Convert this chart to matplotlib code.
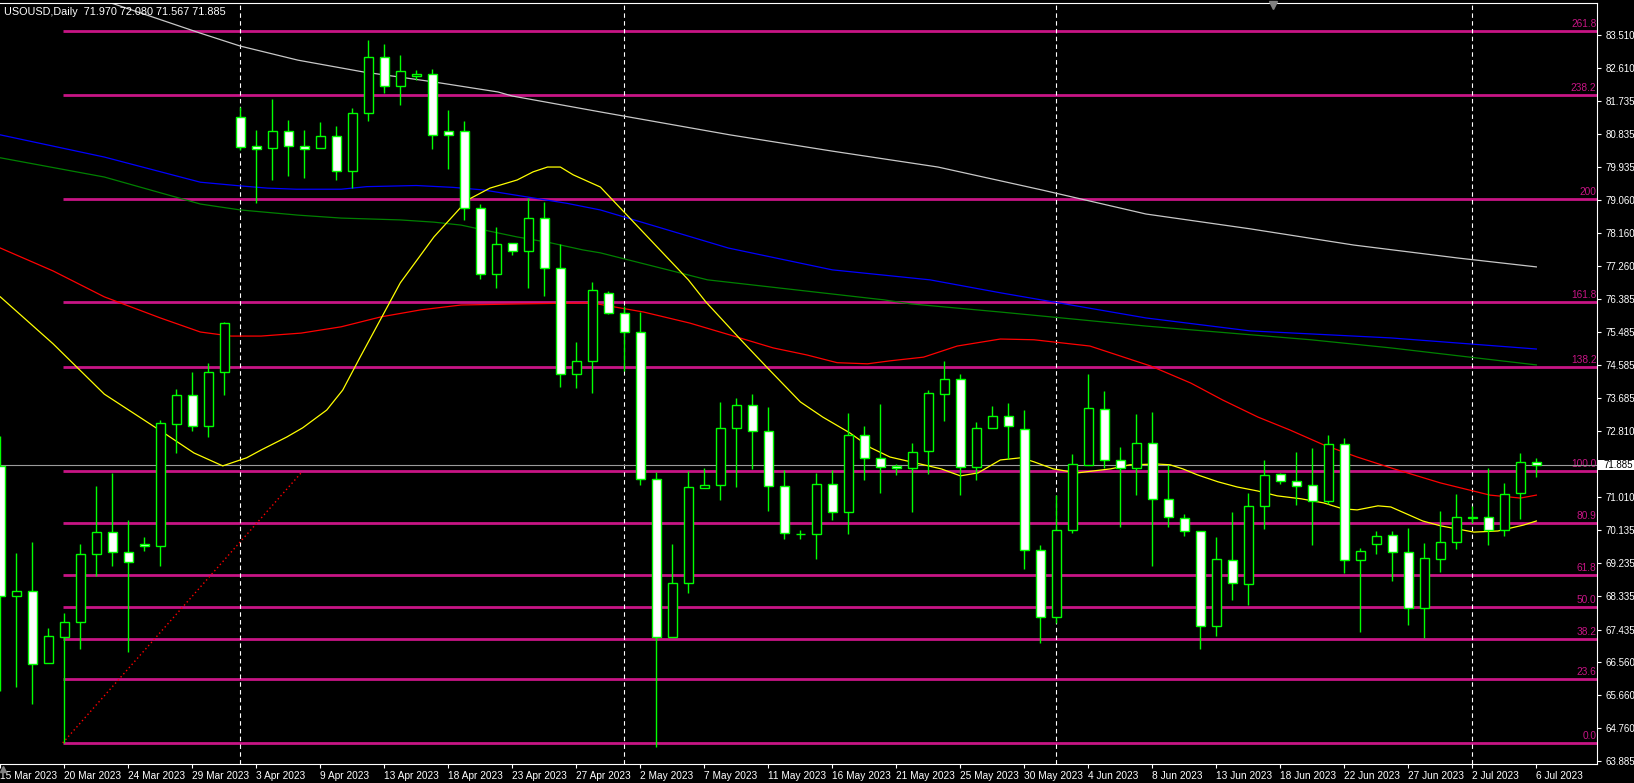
import matplotlib
matplotlib.use('Agg')
import matplotlib.pyplot as plt
from matplotlib.patches import Rectangle

plt.rcParams['font.family'] = ['Liberation Sans', 'DejaVu Sans']

# daily OHLC, bar 0 = 15 Mar 2023 ... bar 96 = 6 Jul 2023
opens = [71.86, 68.34, 68.47, 66.54, 67.24, 67.63, 69.47, 70.07, 69.54, 69.75,
         69.69, 73.00, 73.77, 72.93, 74.39, 81.29, 80.50, 80.45, 80.91, 80.50,
         80.45, 80.77, 79.83, 81.39, 82.91, 82.12, 82.39, 82.45, 80.91, 80.91,
         78.83, 77.04, 77.88, 77.66, 78.55, 77.20, 74.34, 74.69, 76.53, 75.99,
         75.47, 71.50, 67.24, 68.69, 71.26, 71.34, 72.88, 73.50, 72.80, 71.31,
         70.02, 70.01, 71.36, 70.61, 72.69, 72.07, 71.85, 71.80, 72.26, 73.80,
         74.20, 71.82, 72.88, 73.20, 72.85, 69.58, 67.77, 70.12, 71.88, 73.39,
         72.01, 71.80, 72.47, 70.96, 70.44, 70.09, 67.53, 69.31, 68.66, 70.77,
         71.63, 71.45, 71.34, 70.90, 72.45, 69.31, 69.74, 69.99, 69.53, 68.01,
         69.35, 69.80, 70.46, 70.47, 70.12, 71.12, 71.970]
highs = [72.67, 69.51, 69.80, 67.48, 67.88, 69.75, 71.32, 71.66, 70.40, 69.94,
         73.10, 73.94, 74.40, 74.64, 75.75, 81.57, 80.94, 81.78, 81.21, 80.94,
         81.16, 81.05, 81.54, 83.38, 83.27, 82.97, 82.56, 82.58, 81.48, 81.19,
         78.94, 78.31, 77.88, 79.10, 78.99, 77.85, 75.20, 76.82, 76.59, 76.18,
         76.01, 71.69, 69.75, 71.72, 71.80, 73.59, 73.70, 73.81, 73.45, 71.74,
         70.13, 71.67, 71.74, 73.28, 72.94, 73.53, 71.91, 72.48, 73.91, 74.70,
         74.35, 73.05, 73.48, 73.56, 73.37, 69.71, 71.07, 72.17, 74.35, 73.88,
         72.36, 73.26, 73.32, 71.88, 70.56, 70.09, 69.94, 70.61, 71.13, 72.02,
         71.66, 72.23, 72.35, 72.69, 72.61, 69.63, 70.09, 70.09, 70.17, 69.77,
         70.63, 71.10, 70.77, 71.80, 71.39, 72.20, 72.080]
lows = [65.78, 65.88, 65.42, 66.52, 64.37, 66.90, 68.89, 69.16, 66.84, 69.57,
        69.14, 72.22, 72.79, 72.65, 73.79, 80.40, 78.98, 79.60, 79.71, 79.65,
        80.45, 79.60, 79.36, 81.19, 81.95, 81.63, 82.29, 80.42, 79.88, 78.50,
        76.91, 76.66, 77.55, 76.66, 76.45, 73.99, 73.97, 73.84, 75.96, 74.43,
        71.33, 64.27, 67.24, 68.43, 71.26, 70.95, 71.28, 71.77, 70.63, 69.89,
        69.89, 69.35, 70.41, 70.03, 71.49, 71.14, 71.62, 70.62, 71.65, 73.08,
        71.06, 71.49, 72.88, 72.04, 69.06, 67.08, 67.60, 70.04, 71.88, 71.80,
        70.22, 71.08, 69.14, 70.22, 69.96, 66.92, 67.27, 68.24, 68.11, 70.16,
        71.36, 70.79, 69.73, 70.82, 68.96, 67.38, 69.47, 68.74, 67.55, 67.21,
        69.00, 69.60, 70.31, 69.73, 69.96, 70.42, 71.567]
closes = [68.34, 68.47, 66.50, 67.25, 67.63, 69.48, 70.07, 69.54, 69.26, 69.69,
          73.01, 73.77, 72.93, 74.39, 75.72, 80.49, 80.42, 80.91, 80.50, 80.42,
          80.77, 79.83, 81.39, 82.91, 82.12, 82.53, 82.45, 80.80, 80.80, 78.83,
          77.04, 77.85, 77.66, 78.55, 77.20, 74.34, 74.69, 76.61, 75.99, 75.47,
          71.50, 67.23, 68.69, 71.28, 71.34, 72.88, 73.50, 72.80, 71.31, 70.04,
          70.03, 71.36, 70.61, 72.69, 72.07, 71.82, 71.80, 72.23, 73.82, 74.20,
          71.82, 72.88, 73.20, 72.93, 69.58, 67.77, 70.12, 71.90, 73.42, 72.01,
          71.80, 72.47, 70.96, 70.47, 70.09, 67.53, 69.34, 68.69, 70.77, 71.61,
          71.45, 71.31, 70.90, 72.45, 69.31, 69.55, 69.96, 69.53, 68.01, 69.36,
          69.80, 70.47, 70.47, 70.12, 71.09, 71.96, 71.885]

date_labels = ['15 Mar 2023', '20 Mar 2023', '24 Mar 2023', '29 Mar 2023', '3 Apr 2023',
               '9 Apr 2023', '13 Apr 2023', '18 Apr 2023', '23 Apr 2023', '27 Apr 2023',
               '2 May 2023', '7 May 2023', '11 May 2023', '16 May 2023', '21 May 2023',
               '25 May 2023', '30 May 2023', '4 Jun 2023', '8 Jun 2023', '13 Jun 2023',
               '18 Jun 2023', '22 Jun 2023', '27 Jun 2023', '2 Jul 2023', '6 Jul 2023']

price_ticks = [83.510, 82.610, 81.735, 80.835, 79.935, 79.060, 78.160, 77.260, 76.385,
               75.485, 74.585, 73.685, 72.810, 71.010, 70.135, 69.235, 68.335, 67.435,
               66.560, 65.660, 64.760, 63.885]

# fibonacci levels (label, price)
fib_labels = ['261.8', '238.2', '200', '161.8', '138.2', '100.0', '80.9', '61.8',
              '50.0', '38.2', '23.6', '0.0']
fib_prices = [83.61, 81.88, 79.07, 76.28, 74.53, 71.72, 70.32, 68.91, 68.05, 67.18,
              66.10, 64.37]

# moving averages, sampled (bar position, price)
ma_white_x = [5.0, 7.1, 12.5, 15.0, 18.6, 22.7, 25.0, 27.1, 31.1, 32.0, 37.5, 45.6,
              52.0, 58.6, 65.1, 71.6, 78.1, 84.6, 91.1, 96.0]
ma_white = [84.62, 84.35, 83.56, 83.21, 82.83, 82.51, 82.37, 82.24, 81.97, 81.86, 81.43,
            80.81, 80.37, 79.94, 79.32, 78.67, 78.27, 77.83, 77.48, 77.24]
ma_blue_x = [0.0, 6.5, 12.5, 15.0, 16.7, 18.5, 21.3, 22.9, 26.0, 28.3, 30.2, 32.5,
             35.4, 37.5, 40.0, 45.5, 52.0, 58.1, 62.5, 71.6, 78.1, 86.9, 96.0]
ma_blue = [80.81, 80.21, 79.53, 79.43, 79.37, 79.34, 79.34, 79.41, 79.44, 79.39, 79.32,
           79.16, 78.96, 78.78, 78.46, 77.75, 77.16, 76.89, 76.54, 75.86, 75.51, 75.32,
           75.02]
ma_green_x = [0.0, 6.5, 12.5, 15.0, 18.6, 21.3, 25.0, 27.1, 28.8, 30.2, 32.3, 34.4,
              36.4, 37.5, 44.2, 55.2, 56.9, 62.5, 71.6, 81.9, 86.9, 96.0]
ma_green = [80.19, 79.67, 78.94, 78.78, 78.64, 78.56, 78.51, 78.45, 78.37, 78.24, 78.05,
            77.89, 77.70, 77.62, 76.89, 76.35, 76.24, 76.02, 75.64, 75.27, 75.05, 74.59]
ma_red_x = [0.0, 3.3, 6.5, 10.0, 12.5, 14.4, 16.3, 18.8, 21.3, 23.8, 26.3, 28.8, 32.5,
            36.9, 40.2, 43.1, 45.6, 48.3, 50.4, 52.3, 54.2, 55.6, 57.7, 59.8, 62.5,
            64.6, 68.1, 71.9, 74.4, 76.4, 78.6, 80.6, 82.7, 84.8, 87.1, 90.0, 93.1,
            95.0, 96.0]
ma_red = [77.75, 77.13, 76.43, 75.86, 75.48, 75.37, 75.37, 75.45, 75.62, 75.89, 76.08,
          76.21, 76.24, 76.27, 76.02, 75.72, 75.40, 75.05, 74.86, 74.65, 74.62, 74.70,
          74.80, 75.10, 75.29, 75.27, 75.10, 74.56, 74.10, 73.64, 73.18, 72.83, 72.43,
          72.10, 71.78, 71.40, 71.07, 70.99, 71.07]
ma_yellow_x = [0.0, 3.3, 6.5, 10.4, 12.1, 13.9, 15.4, 16.3, 17.9, 18.9, 20.4, 21.4,
               22.5, 25.0, 27.1, 29.2, 30.6, 32.3, 33.3, 34.2, 35.0, 35.8, 37.5, 43.0,
               44.1, 46.3, 47.9, 50.0, 51.4, 53.1, 54.4, 55.6, 56.7, 57.7, 58.8, 60.0,
               61.1, 62.5, 63.8, 64.6, 65.8, 67.3, 69.4, 70.6, 72.3, 73.1, 73.9, 74.8,
               76.1, 77.3, 78.6, 79.8, 81.3, 82.7, 83.9, 84.8, 86.1, 86.9, 88.9, 90.0,
               92.1, 93.6, 95.2, 96.0]
ma_yellow = [76.43, 75.16, 73.80, 72.70, 72.21, 71.86, 72.08, 72.29, 72.64, 72.89,
             73.37, 73.91, 74.81, 76.81, 78.05, 79.05, 79.37, 79.59, 79.81, 79.94,
             79.94, 79.73, 79.40, 76.89, 76.29, 75.26, 74.53, 73.59, 73.18, 72.75,
             72.35, 72.10, 71.99, 71.89, 71.78, 71.59, 71.67, 72.02, 72.08, 71.97,
             71.78, 71.67, 71.78, 71.89, 71.91, 71.89, 71.78, 71.62, 71.43, 71.29,
             71.18, 71.05, 70.97, 70.86, 70.70, 70.67, 70.78, 70.75, 70.37, 70.24,
             70.07, 70.10, 70.26, 70.37]

separators = [15, 39, 66, 92]
fib_start = (3.9, 64.37)
fib_end = (18.9, 71.72)
last_price = 71.885

GREEN = '#00FF00'
FIB = '#C71585'
FS = 7

fig = plt.figure(figsize=(16.34, 7.83), dpi=100, facecolor='black')
ax = fig.add_axes([0, 19/783, 1597/1634, 761/783])
ax.set_facecolor('black')
ax.set_xlim(-0.02, 99.79)
ax.set_ylim(63.80, 84.375)

# fibonacci
ax.hlines(fib_prices, fib_start[0], 99.79, color=FIB, lw=2, zorder=1)
for lab, p in zip(fib_labels, fib_prices):
    ax.text(99.75, p + 0.06, lab, ha='right', va='bottom', color=FIB, fontsize=7.3, zorder=1)
ax.plot([fib_start[0], fib_end[0]], [fib_start[1], fib_end[1]], color='red',
        ls=(0, (1, 2)), lw=1, zorder=2)

for s in separators:
    ax.axvline(s, color='white', lw=0.8, ls=(0, (4, 3)), zorder=1)
ax.axhline(last_price, color='#9a9a9a', lw=0.8, zorder=1.5)

ax.plot(ma_white_x, ma_white, color='#C8C8C8', lw=0.9, zorder=2)
ax.plot(ma_blue_x, ma_blue, color='#0000FF', lw=0.9, zorder=2)
ax.plot(ma_green_x, ma_green, color='#008000', lw=0.9, zorder=2)
ax.plot(ma_red_x, ma_red, color='#FF0000', lw=0.9, zorder=2)
ax.plot(ma_yellow_x, ma_yellow, color='#FFFF00', lw=0.9, zorder=2)

# candles
idx = list(range(len(opens)))
ax.vlines(idx, lows, highs, color=GREEN, lw=1, zorder=3)
bottoms = [min(o, c) for o, c in zip(opens, closes)]
heights = [max(abs(c - o), 0.005) for o, c in zip(opens, closes)]
faces = ['black' if c >= o else 'white' for o, c in zip(opens, closes)]
ax.bar(idx, heights, bottom=bottoms, width=0.6, color=faces, edgecolor=GREEN,
       linewidth=1, zorder=4)

# axes styling
ax.spines['left'].set_visible(False)
for side in ['top', 'right', 'bottom']:
    ax.spines[side].set_color('white')
    ax.spines[side].set_linewidth(0.8)
ax.yaxis.tick_right()
ax.set_yticks(price_ticks)
ax.set_yticklabels([f'{v:.3f}' for v in price_ticks])
ax.tick_params(axis='y', colors='white', length=3, width=0.8, pad=3, labelsize=FS)
ax.set_xticks(range(0, 97, 4))
ax.set_xticklabels(date_labels, ha='left')
ax.tick_params(axis='x', colors='white', length=3, width=0.8, pad=2, labelsize=7.3)

# current price tag
fig.patches.append(Rectangle((1598/1634, 1 - 470/783), 36/1634, 10/783, transform=fig.transFigure,
                             facecolor='white', edgecolor='none', zorder=5))
fig.text(1603/1634, 1 - 465/783, f'{last_price:.3f}', color='black', fontsize=FS,
         va='center', ha='left', zorder=6)

# chart shift markers
fig.lines.append(plt.Line2D([1273/1634], [1 - 5/783], marker='v', markersize=6, color='#808080',
                            transform=fig.transFigure))
fig.lines.append(plt.Line2D([3/1634], [1 - 769/783], marker='^', markersize=5, color='#808080',
                            transform=fig.transFigure))

fig.text(4/1634, 1 - 12/783, 'USOUSD,Daily  71.970 72.080 71.567 71.885', color='white',
         fontsize=7.8, va='center', ha='left')

fig.savefig('out.png', dpi=100, facecolor='black')
